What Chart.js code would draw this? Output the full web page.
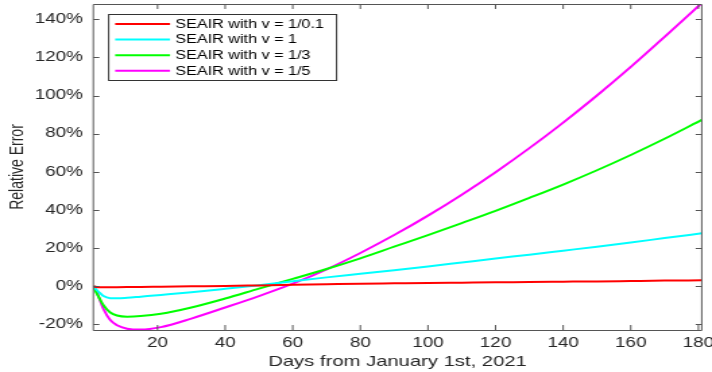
<!DOCTYPE html>
<html><head><meta charset="utf-8">
<script src="https://cdn.jsdelivr.net/npm/chart.js@4/dist/chart.umd.min.js"></script>
<style>
html,body{margin:0;padding:0;background:#fff;overflow:hidden}
</style></head>
<body>
<canvas id="c" width="528" height="372" style="display:block;width:712px;height:372px"></canvas>
<script>
// Days from January 1st, 2021
const days = [1,2,3,4,6,8,11,15,21,30,40,50,60,70,80,90,100,110,120,130,140,150,160,170,181];
// Relative error (%) per series
const errV01 = [0,-0.5,-0.6,-0.6,-0.6,-0.55,-0.5,-0.45,-0.3,-0.1,0.1,0.4,0.7,1.0,1.3,1.5,1.7,1.85,2.0,2.2,2.35,2.5,2.7,2.9,3.1];
const errV1  = [0,-2,-3.7,-5.2,-6.3,-6.4,-6.1,-5.5,-4.6,-3.2,-1.4,0.5,2.6,4.6,6.5,8.4,10.3,12.4,14.5,16.5,18.6,20.7,22.9,25.2,27.7];
const errV3  = [0,-3.8,-7,-10,-13.8,-15.4,-16,-15.7,-14.5,-11.2,-6.5,-1.3,3.8,9,14.6,20.7,26.8,33.1,39.5,46.3,53.3,60.8,68.8,77.3,87.2];
const errV5  = [0,-3,-7.5,-12,-17.8,-20.5,-22.3,-22.8,-21.5,-17,-11.2,-5.2,1.3,8.8,17.4,26.8,37,48,59.8,72.4,85.8,100,115,130.8,148.5];
const seriesLabels = ['SEAIR with v = 1/0.1','SEAIR with v = 1','SEAIR with v = 1/3','SEAIR with v = 1/5'];
const seriesColors = ['#ff0000','#00ffff','#00ff00','#ff00ff'];
const xTicks = [20,40,60,80,100,120,140,160,180];
const yTicks = [-20,0,20,40,60,80,100,120,140];

const allSeries = [errV01, errV1, errV3, errV5];
const FONT = "'Liberation Sans', Arial, Helvetica, sans-serif";
const AX = '#262626';

const frameLegend = {
  id: 'frameLegend',
  afterDatasetsDraw(chart) {
    const ctx = chart.ctx, a = chart.chartArea;
    const xs = chart.scales.x, ys = chart.scales.y;
    ctx.save();
    ctx.strokeStyle = '#555';
    ctx.lineWidth = 1;
    ctx.beginPath();
    ctx.rect(a.left, Math.round(a.top) + 0.5, a.right - a.left, Math.round(a.bottom - a.top));
    ctx.stroke();
    ctx.beginPath();
    xTicks.forEach(v => {
      const px = xs.getPixelForValue(v);
      ctx.moveTo(px, a.bottom); ctx.lineTo(px, a.bottom - 5);
      ctx.moveTo(px, a.top); ctx.lineTo(px, a.top + 5);
    });
    yTicks.forEach(v => {
      const py = Math.round(ys.getPixelForValue(v)) + 0.5;
      ctx.moveTo(a.left, py); ctx.lineTo(a.left + 4.5, py);
      ctx.moveTo(a.right, py); ctx.lineTo(a.right - 4.5, py);
    });
    ctx.stroke();
    // legend
    const bx = a.left + 10.9, by = 14, bw = 169, bh = 66;
    ctx.fillStyle = '#fff';
    ctx.fillRect(bx, by, bw, bh);
    ctx.strokeStyle = '#333';
    ctx.strokeRect(bx + 0.5, by + 0.5, bw, bh);
    ctx.font = '12px ' + FONT;
    ctx.textBaseline = 'middle';
    ctx.textAlign = 'left';
    chart.data.datasets.forEach((ds, i) => {
      const y = by + 10 + i * 15.6;
      ctx.strokeStyle = ds.borderColor;
      ctx.lineWidth = 2;
      ctx.beginPath();
      ctx.moveTo(bx + 5.3, y); ctx.lineTo(bx + 46, y);
      ctx.stroke();
      ctx.fillStyle = '#000';
      ctx.fillText(ds.label, bx + 49.8, y + 0.5);
    });
    ctx.restore();
  }
};

new Chart(document.getElementById('c'), {
  type: 'line',
  data: {
    datasets: allSeries.map((s, i) => ({
      label: seriesLabels[i],
      data: days.map((d, k) => ({x: d, y: s[k]})),
      borderColor: seriesColors[i],
      backgroundColor: seriesColors[i],
      borderWidth: 2,
      pointRadius: 0,
      cubicInterpolationMode: 'monotone',
      fill: false
    }))
  },
  options: {
    responsive: false,
    animation: false,
    devicePixelRatio: 1,
    layout: {padding: {top: 4, right: 7.6, left: 0, bottom: 0}},
    plugins: {legend: {display: false}, tooltip: {enabled: false}},
    scales: {
      x: {
        type: 'linear', min: 1, max: 181,
        grid: {display: false, drawTicks: false},
        border: {display: false},
        afterBuildTicks: s => { s.ticks = xTicks.map(v => ({value: v})); },
        afterFit: s => { s.height = 42; s.paddingLeft = 0; s.paddingRight = 0; },
        ticks: {font: {family: FONT, size: 14}, color: AX, padding: 5, maxRotation: 0, autoSkip: false},
        title: {display: true, text: 'Days from January 1st, 2021', font: {family: FONT, size: 15}, color: AX, padding: {top: 0, bottom: 1}}
      },
      y: {
        type: 'linear', min: -23, max: 148,
        grid: {display: false, drawTicks: false},
        border: {display: false},
        afterBuildTicks: s => { s.ticks = yTicks.map(v => ({value: v})); },
        afterFit: s => { s.width = 69.2; s.paddingTop = 0; s.paddingBottom = 0; },
        ticks: {font: {family: FONT, size: 14}, color: AX, padding: 7.7, autoSkip: false, callback: v => v + '%'},
        title: {display: true, text: 'Relative Error', font: {family: FONT, size: 14}, color: AX, padding: {top: 5, bottom: 0}}
      }
    }
  },
  plugins: [frameLegend]
});
</script>
</body></html>
